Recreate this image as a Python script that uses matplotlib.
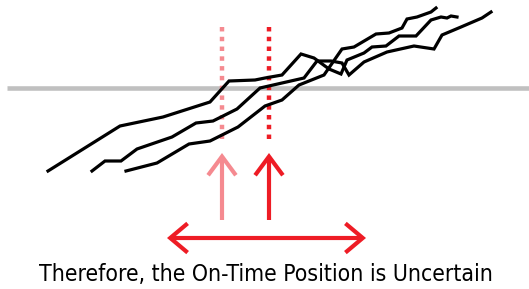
import numpy as np
import matplotlib.pyplot as plt

# three trajectories, x / y in picture units (y grows downward)
a_x = [48, 120, 163, 210, 229, 255, 265, 282, 301, 314, 329, 341, 347, 364, 372, 386, 399, 416, 431, 441, 447, 451, 457]
a_y = [171, 126, 117, 102, 81, 80, 78, 75, 54, 58, 69, 74, 60, 53, 47, 46, 36, 36, 20, 17, 18, 16, 17]

b_x = [92, 105, 121, 137, 172, 196, 213, 237, 260, 304, 317, 331, 342, 349, 364, 387, 414, 434, 442, 461, 482, 491]
b_y = [171, 161, 161, 149, 137, 123, 121, 109, 88, 78, 61, 61, 63, 75, 62, 52, 46, 49, 35, 27, 18, 12]

c_x = [126, 157, 189, 210, 238, 265, 282, 299, 324, 342, 354, 376, 389, 402, 407, 417, 431, 436]
c_y = [171, 163, 144, 141, 127, 106, 100, 85, 75, 49, 47, 34, 33, 28, 19, 17, 12, 8]

baseline_y = 88
early_x = 222
ontime_x = 269
range_x = [167, 366]
caption = "Therefore, the On-Time Position is Uncertain"

pink = "#f58a90"
red = "#ee1c25"

fig = plt.figure(figsize=(5.29, 2.89), dpi=100)
ax = fig.add_axes([0, 0, 1, 1])
ax.set_xlim(0, 529)
ax.set_ylim(289, 0)
ax.axis("off")

ax.plot([7, 529], [baseline_y, baseline_y], color="#c0c0c0", lw=3.3, solid_capstyle="butt", zorder=1)

for xs, ys in [(a_x, a_y), (b_x, b_y), (c_x, c_y)]:
    ax.plot(xs, ys, color="black", lw=2.3, solid_joinstyle="miter", zorder=3)

# dotted markers for the two times
ax.plot([early_x, early_x], [27, 143], color=pink, lw=3.2, ls=(0, (1, 1.2)), dash_capstyle="butt", zorder=2)
ax.plot([ontime_x, ontime_x], [27, 143], color=red, lw=3.2, ls=(0, (1, 1.2)), dash_capstyle="butt", zorder=2)

head = "->, head_length=1.35, head_width=1.0"
for x, col in [(early_x, pink), (ontime_x, red)]:
    ax.annotate("", xy=(x, 153), xytext=(x, 220),
                arrowprops=dict(arrowstyle=head, color=col, lw=3, shrinkA=0, shrinkB=0,
                                mutation_scale=10, joinstyle="miter", capstyle="butt"))

ax.annotate("", xy=(range_x[0], 238), xytext=(range_x[1], 238),
            arrowprops=dict(arrowstyle="<->, head_length=1.25, head_width=1.05", color=red, lw=3,
                            shrinkA=0, shrinkB=0, mutation_scale=10, joinstyle="miter", capstyle="butt"))

ax.text(266, 275, caption, ha="center", va="center", fontsize=16.5,
        family="DejaVu Sans", stretch="condensed", weight="medium", color="black")

fig.savefig("out.png", dpi=100)
